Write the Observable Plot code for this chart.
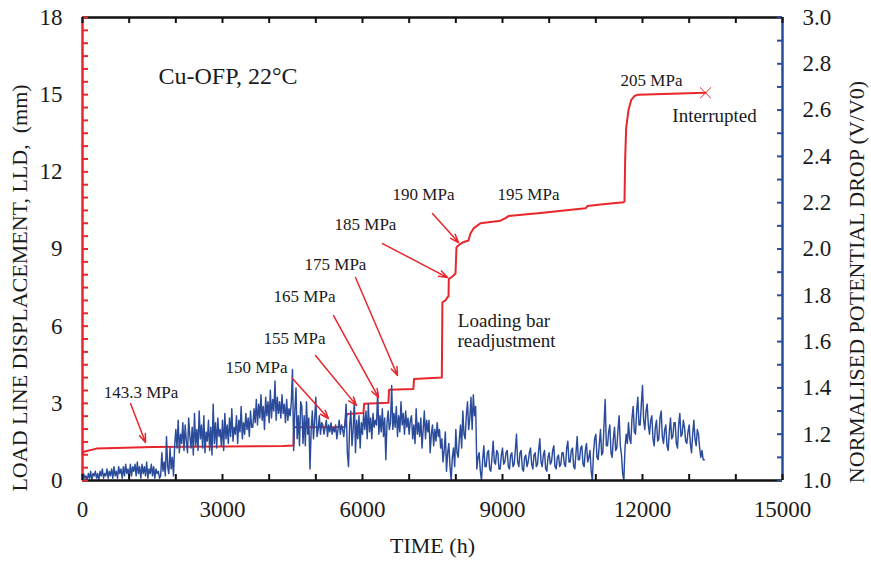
<!DOCTYPE html>
<html><head><meta charset="utf-8">
<script src="https://cdn.jsdelivr.net/npm/d3@7"></script>
<script src="https://cdn.jsdelivr.net/npm/@observablehq/plot@0.6"></script>
<style>html,body{margin:0;padding:0;background:#fff}</style>
</head><body><div id="chart"></div>
<script>
// ---------- data ----------
// Load line displacement (red, left axis, mm)
const lldTime = [0, 30, 300, 1500, 3000, 4300, 4520, 4535, 5620, 5650, 5672, 6020, 6035, 6555, 6570, 7090, 7105, 7700, 7712, 7779, 7821, 7843, 7850, 7929, 7993, 8014, 8100, 8143, 8271, 8314, 8379, 8529, 8957, 9064, 9129, 9814, 10779, 10821, 11100, 11600, 11614, 11630, 11650, 11700, 11760, 11830, 11900, 13350];
const lldMm   = [1.05, 1.12, 1.24, 1.30, 1.32, 1.34, 1.36, 2.07, 2.08, 2.45, 2.59, 2.62, 2.98, 3.02, 3.53, 3.56, 3.95, 4.00, 6.93, 7.00, 7.13, 7.15, 7.84, 7.93, 8.05, 9.07, 9.20, 9.25, 9.33, 9.60, 9.80, 10.00, 10.10, 10.20, 10.28, 10.40, 10.58, 10.67, 10.73, 10.82, 10.85, 12.60, 13.70, 14.40, 14.80, 14.95, 15.00, 15.07];

// Normalised potential drop (blue, right axis, V/V0), sampled every 25 h from 0 h
const pdStart = 0, pdStep = 25;
const pdValues = [
  1.00,1.03,1.01,1.02,1.00,1.03,1.01,1.04,1.00,1.03,1.02,1.04,1.01,1.03,1.00,1.04,
  1.02,1.05,1.01,1.03,1.02,1.05,1.01,1.04,1.02,1.05,1.01,1.06,1.02,1.04,1.01,1.06,
  1.03,1.05,1.01,1.06,1.02,1.07,1.03,1.05,1.01,1.07,1.02,1.06,1.04,1.07,1.02,1.08,
  1.03,1.06,1.01,1.07,1.03,1.06,1.02,1.08,1.01,1.05,1.03,1.07,1.02,1.06,1.01,1.05,
  1.03,1.04,1.01,1.02,
  1.12,1.04,1.08,1.02,1.19,1.06,1.03,1.14,1.05,1.10,1.02,1.15,
  1.22,1.14,1.26,1.12,1.20,1.16,1.25,1.13,1.24,1.17,1.12,1.27,1.19,1.14,1.23,1.11,
  1.29,1.15,1.22,1.13,1.30,1.18,1.24,1.14,1.28,1.12,1.21,1.17,1.26,1.13,1.23,1.11,
  1.33,1.16,1.25,1.14,1.27,1.19,1.22,1.15,1.26,1.13,1.29,1.18,1.24,1.16,1.27,1.19,
  1.31,1.17,1.23,1.20,1.28,1.16,1.26,1.21,1.32,1.18,1.25,1.20,1.29,1.22,1.27,1.19,
  1.30,1.23,
  1.23,1.31,1.25,1.35,1.24,1.33,1.27,1.37,1.26,1.32,1.22,1.36,1.28,1.34,1.25,1.39,
  1.27,1.35,1.30,1.43,1.26,1.36,1.29,1.34,1.27,1.37,1.29,1.33,1.25,1.35,1.26,1.31,
  1.28,1.34,
  1.48,1.13,1.30,1.40,1.18,1.28,1.15,1.34,
  1.32,1.16,1.28,1.15,1.34,1.20,1.27,1.05,1.22,1.30,1.18,1.26,1.36,1.19,1.22,1.28,1.20,1.25,
  1.24,1.20,1.23,1.26,1.19,1.24,1.21,1.25,1.20,1.23,1.21,1.24,1.18,1.22,1.26,1.20,1.24,1.22,1.19,1.25,
  1.33,1.12,1.06,1.24,1.30,1.15,1.22,1.35,1.12,1.26,1.18,1.28,1.14,1.25,
  1.20,1.29,1.22,1.30,1.18,1.33,1.21,1.27,1.18,1.29,1.23,1.26,1.24,1.38,1.20,1.28,
  1.21,1.31,1.19,1.27,1.09,1.25,1.30,1.22,1.25,1.41,1.22,1.29,1.23,1.32,1.19,1.28,
  1.21,1.34,1.24,1.29,1.20,1.30,1.23,1.27,1.20,1.26,
  1.28,1.18,1.24,1.16,1.31,1.20,1.25,1.19,1.27,1.14,1.22,1.30,1.18,1.26,1.21,1.26,1.12,1.20,1.24,1.15,1.22,1.17,1.25,1.19,1.22,1.14,
  1.18,1.08,1.13,1.21,1.04,1.12,1.16,1.06,1.00,1.10,1.14,1.06,1.22,1.12,1.10,1.18,1.24,1.14,
  1.30,1.20,1.18,1.28,1.34,1.22,1.27,1.36,1.22,1.37,1.28,1.32,
  1.05,1.10,1.12,1.04,1.00,1.09,1.15,1.06,1.06,1.12,1.13,1.05,1.04,1.10,1.17,1.08,1.07,1.13,1.12,1.05,1.05,1.11,1.14,1.07,
  1.08,1.12,1.13,1.06,1.05,1.11,1.12,1.06,1.07,1.13,1.20,1.08,1.06,1.12,1.13,1.05,
  1.04,1.10,1.11,1.06,1.08,1.12,1.14,1.07,1.05,1.11,1.12,1.06,1.07,1.13,1.18,1.08,
  1.06,1.11,1.13,1.05,1.04,1.10,1.12,1.07,1.08,1.13,1.15,1.06,1.05,1.10,1.11,1.06,
  1.07,1.12,
  1.12,1.07,1.06,1.14,1.17,1.08,1.08,1.13,1.14,1.06,1.05,1.12,1.19,1.09,1.09,1.14,1.15,1.07,1.06,1.13,1.16,1.08,1.10,1.13,
  1.04,1.00,
  1.12,1.18,1.20,1.10,1.09,1.16,1.22,1.11,1.12,1.24,1.35,1.15,1.15,1.21,1.24,1.12,1.10,1.18,1.23,1.13,1.14,1.22,1.28,1.15,1.11,1.03,1.00,1.14,1.20,1.16,
  1.25,1.18,1.16,1.27,1.32,1.21,1.20,1.30,1.36,1.24,1.24,1.33,1.41,1.26,1.22,1.30,1.33,1.24,
  1.20,1.26,1.28,1.18,1.15,1.23,1.26,1.17,1.18,1.27,1.30,1.19,1.16,1.22,1.24,1.15,1.13,1.21,1.27,1.18,1.19,1.25,1.25,1.16,1.14,1.24,1.29,1.19,1.20,1.26,1.23,1.17,1.16,1.21,
  1.24,1.16,1.12,1.20,1.26,1.18,1.15,1.22,1.20,1.14,1.10,1.13,1.09,1.09
];

// Stress labels and their arrows
const mpaLabels = ["143.3 MPa", "150 MPa", "155 MPa", "165 MPa", "175 MPa", "185 MPa", "190 MPa", "195 MPa", "205 MPa"];
const mpaTime   = [1254, 3729, 4543, 4757, 5421, 6064, 7307, 9557, 12193];
const mpaMm     = [3.40, 4.39, 5.52, 7.15, 8.40, 9.95, 11.12, 11.12, 15.55];

const arrowFromTime = [1029, 4500, 4993, 5379, 5850, 6429, 7500];
const arrowFromMm   = [2.99, 3.97, 4.86, 6.41, 7.89, 9.21, 10.38];
const arrowToTime   = [1350, 5271, 5871, 6343, 6750, 7821, 8057];
const arrowToMm     = [1.48, 2.41, 2.92, 3.23, 4.08, 7.89, 9.25];

const noteTexts = ["Interrupted", "Loading bar", "readjustment"];
const noteTime  = [13543, 9032, 9086];
const noteMm    = [14.19, 6.22, 5.44];

const titleText = "Cu-OFP, 22°C";
const titleTime = 3118, titleMm = 15.71;

// Axes
const xTickValues = [0, 3000, 6000, 9000, 12000, 15000];
const leftTickValues = [0, 3, 6, 9, 12, 15, 18];
const rightTickValues = [1.0, 1.2, 1.4, 1.6, 1.8, 2.0, 2.2, 2.4, 2.6, 2.8, 3.0];
const xLabel = "TIME (h)";
const leftLabel = "LOAD LINE DISPLACEMENT, LLD,\u00A0\u00A0(mm)";
const rightLabel = "NORMALISED POTENTIAL DROP (V/V0)";

// ---------- build ----------
const W = 871, H = 562, ML = 82, MR = 89, MT = 17, MB = 82;
const hPerPx = 15000 / (W - ML - MR);
const mmPerPx = 18 / (H - MT - MB);
const RED = "#e8262b", BLUE = "#2b4b9b", INK = "#1a1a1a";
const toMm = v => (v - 1) * 9;

const lld = lldTime.map((t, i) => ({t, mm: lldMm[i]}));
const pd = pdValues.map((v, i) => ({t: pdStart + i * pdStep, v}));
const mpa = mpaLabels.map((s, i) => ({s, t: mpaTime[i], mm: mpaMm[i]}));
const arrows = arrowFromTime.map((t, i) => ({t1: t, y1: arrowFromMm[i], t2: arrowToTime[i], y2: arrowToMm[i]}));
const notes = noteTexts.map((s, i) => ({s, t: noteTime[i], mm: noteMm[i]}));

const leftMinor = d3.range(0, 18.001, 0.5);
const rightMinor = d3.range(1.0, 3.001, 0.1).map(toMm);
const xMinor = d3.range(0, 15001, 1000);

const chart = Plot.plot({
  width: W, height: H,
  marginLeft: ML, marginRight: MR, marginTop: MT, marginBottom: MB,
  style: {fontFamily: "'Liberation Serif', 'Times New Roman', serif", color: INK, background: "#fff"},
  x: {domain: [0, 15000], axis: null},
  y: {domain: [0, 18], axis: null},
  marks: [
    Plot.line(lld, {x: "t", y: "mm", stroke: RED, strokeWidth: 2}),
    Plot.line(pd, {x: "t", y: d => toMm(d.v), stroke: BLUE, strokeWidth: 1.45}),
    Plot.dot([lld[lld.length - 1]], {x: "t", y: "mm", symbol: "times", r: 5, stroke: RED, strokeWidth: 1}),
    Plot.arrow(arrows, {x1: "t1", y1: "y1", x2: "t2", y2: "y2", stroke: RED, strokeWidth: 1.5, headLength: 9, headAngle: 40}),
    Plot.text(mpa, {x: "t", y: "mm", text: "s", fontSize: 17, fill: INK}),
    Plot.text(notes, {x: "t", y: "mm", text: "s", fontSize: 19, fill: INK}),
    Plot.text([titleText], {x: titleTime, y: titleMm, text: d => d, fontSize: 24, fill: INK}),
    // frame
    Plot.ruleY([0, 18], {stroke: "#111", strokeWidth: 2.5}),
    Plot.ruleX([0], {stroke: RED, strokeWidth: 2.5}),
    Plot.ruleX([15000], {stroke: BLUE, strokeWidth: 2.5}),
    // inward ticks
    Plot.ruleY(leftMinor, {y: d => d, x1: 0, x2: 6 * hPerPx, stroke: RED, strokeWidth: 2}),
    Plot.ruleY(rightMinor, {y: d => d, x1: 15000 - 5 * hPerPx, x2: 15000, stroke: BLUE, strokeWidth: 2}),
    Plot.ruleX(xMinor, {x: d => d, y1: 0, y2: 6 * mmPerPx, stroke: "#111", strokeWidth: 2}),
    Plot.ruleX(xMinor, {x: d => d, y1: 18 - 6 * mmPerPx, y2: 18, stroke: "#111", strokeWidth: 2}),
    // tick labels
    Plot.axisX(xTickValues, {anchor: "bottom", tickSize: 0, tickPadding: 20, fontSize: 23, label: null, tickFormat: d => String(d)}),
    Plot.axisY(leftTickValues, {anchor: "left", tickSize: 0, tickPadding: 20, fontSize: 23, label: null, tickFormat: d => String(d)}),
    Plot.axisY(rightTickValues.map(toMm), {anchor: "right", tickSize: 0, tickPadding: 20, fontSize: 23, label: null, tickFormat: d => (d / 9 + 1).toFixed(1)}),
    // axis titles
    Plot.text([xLabel], {text: d => d, frameAnchor: "bottom", textAnchor: "middle", dy: 72, fontSize: 22, fill: INK}),
    Plot.text([leftLabel], {text: d => d, frameAnchor: "left", textAnchor: "middle", rotate: -90, dx: -63, dy: 39, fontSize: 22, fill: INK}),
    Plot.text([rightLabel], {text: d => d, frameAnchor: "right", textAnchor: "middle", rotate: -90, dx: 74, dy: 33, fontSize: 22, fill: INK})
  ]
});
document.getElementById("chart").appendChild(chart);
</script>
</body></html>
